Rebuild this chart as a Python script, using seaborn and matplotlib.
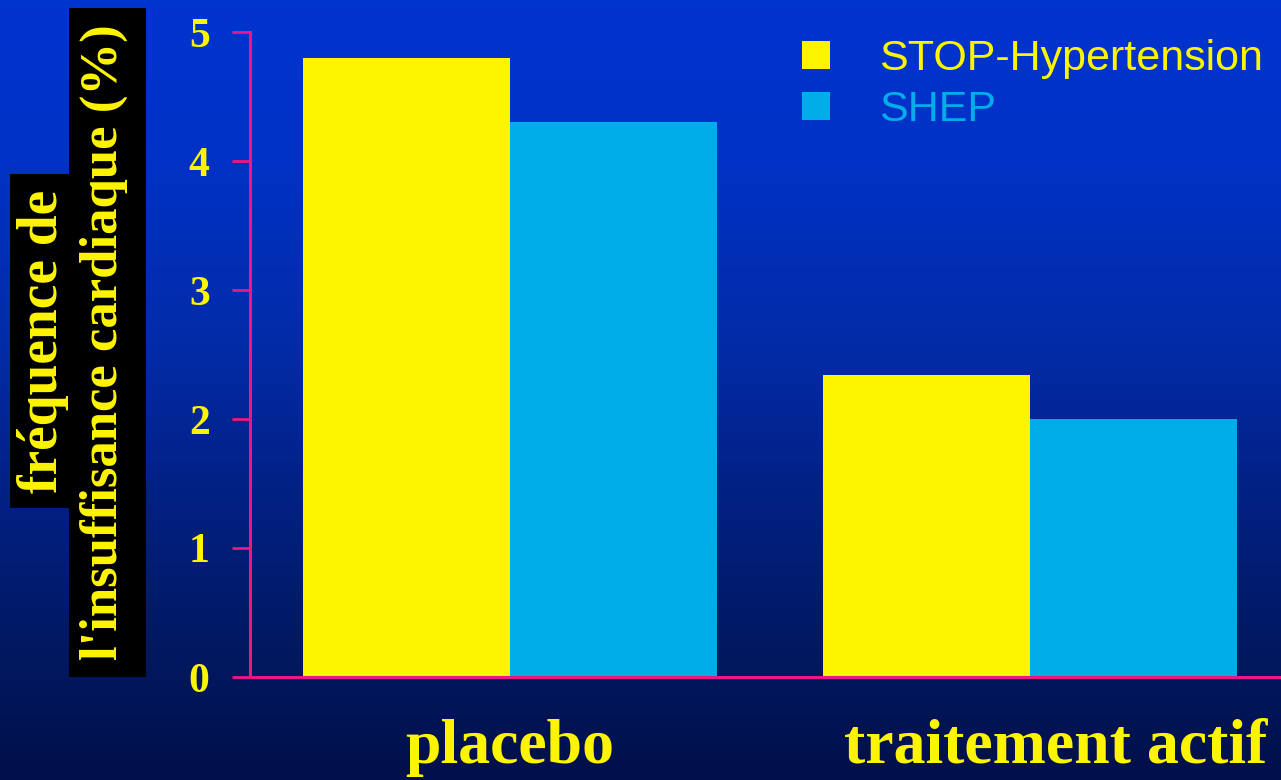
import numpy as np
import pandas as pd
import matplotlib
matplotlib.use("Agg")
import matplotlib.pyplot as plt
from matplotlib.colors import LinearSegmentedColormap
from matplotlib.patches import Rectangle, Patch
from matplotlib.transforms import ScaledTranslation
import seaborn as sns

# Data
groups = ["placebo", "traitement actif"]
studies = ["STOP-Hypertension", "SHEP"]
stop_values = [4.8, 2.34]
shep_values = [4.3, 2.0]
yticks = [0, 1, 2, 3, 4, 5]
ylabel_line1 = "fréquence de"
ylabel_line2 = "l'insuffisance cardiaque (%)"

YELLOW = "#FDF500"
CYAN = "#00ADE8"
PINK = "#EE1683"

df = pd.DataFrame({
    "groupe": groups * 2,
    "etude": [studies[0]] * len(groups) + [studies[1]] * len(groups),
    "valeur": stop_values + shep_values,
})

sns.set_theme(style="white")
plt.rcParams["font.family"] = ["Liberation Serif", "DejaVu Serif"]

W, H = 1281, 780
fig = plt.figure(figsize=(W / 100, H / 100), dpi=100)

# Vertical blue gradient background
bg = fig.add_axes([0, 0, 1, 1], zorder=-10)
cmap = LinearSegmentedColormap.from_list(
    "bg",
    [(0.0, "#0034CF"), (0.2, "#0032C6"), (0.45, "#022BA6"),
     (0.6, "#02228A"), (0.8, "#011A66"), (1.0, "#01104A")],
)
grad = np.linspace(0, 1, 256).reshape(-1, 1)
bg.imshow(grad, cmap=cmap, aspect="auto", extent=[0, 1, 0, 1], origin="upper")
bg.set_axis_off()

# Main axes (right limit runs slightly past the figure edge)
ax = fig.add_axes([250 / W, 103 / H, 1040 / W, 645 / H], zorder=1)
ax.set_facecolor("none")
sns.barplot(data=df, x="groupe", y="valeur", hue="etude", order=groups,
            hue_order=studies, palette=[YELLOW, CYAN], width=0.795,
            saturation=1, errorbar=None, ax=ax, legend=False, linewidth=0)
ax.set_xlim(-0.5, 1.5)
ax.set_ylim(0, 5)
ax.set_yticks(yticks)
ax.set_yticklabels([str(t) for t in yticks])
ax.set_xlabel("")
ax.set_ylabel("")

for s in ["top", "right"]:
    ax.spines[s].set_visible(False)
for s in ["left", "bottom"]:
    ax.spines[s].set_color(PINK)
    ax.spines[s].set_linewidth(2.2)

ax.tick_params(axis="y", direction="out", length=13, width=2, color=PINK,
               pad=16, labelsize=30, labelcolor=YELLOW, left=True)
ax.tick_params(axis="x", length=0, pad=30, labelsize=46, labelcolor=YELLOW)
for lab in ax.get_yticklabels():
    lab.set_fontweight("bold")
xlabs = ax.get_xticklabels()
for lab in xlabs:
    lab.set_fontweight("bold")
# the second group label sits a little right of its bar pair
xlabs[1].set_transform(xlabs[1].get_transform()
                       + ScaledTranslation(26 / 100, 0, fig.dpi_scale_trans))

# Legend
handles = [Patch(facecolor=YELLOW, edgecolor="none"),
           Patch(facecolor=CYAN, edgecolor="none")]
leg = ax.legend(handles, studies, loc="upper left",
                bbox_to_anchor=(802 / W, 1 - 39 / H),
                bbox_transform=fig.transFigure, frameon=False,
                prop={"family": "Liberation Sans", "size": 31},
                handlelength=0.65, handleheight=0.65, handletextpad=1.15,
                labelspacing=0.26, borderpad=0, borderaxespad=0,
                labelcolor=[YELLOW, CYAN])

# Two-line rotated y label on black boxes
fig.patches.append(Rectangle((10 / W, (H - 508) / H), 60 / W, 334 / H,
                             transform=fig.transFigure, facecolor="black",
                             edgecolor="none", zorder=2))
fig.patches.append(Rectangle((69 / W, (H - 677) / H), 77 / W, 669 / H,
                             transform=fig.transFigure, facecolor="black",
                             edgecolor="none", zorder=2))
fig.text(57 / W, 1 - 341 / H, ylabel_line1, rotation=90, rotation_mode="anchor",
         ha="center", va="baseline", color=YELLOW, fontsize=40,
         fontweight="bold", zorder=3)
fig.text(117 / W, 1 - 342 / H, ylabel_line2, rotation=90, rotation_mode="anchor",
         ha="center", va="baseline", color=YELLOW, fontsize=38,
         fontweight="bold", zorder=3)

fig.savefig("out.png", dpi=100)
